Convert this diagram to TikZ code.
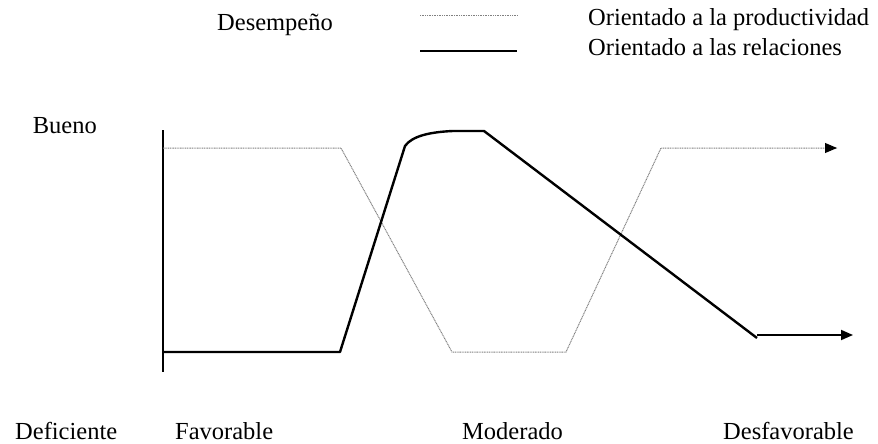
\documentclass[tikz,border=0pt]{standalone}
\usepackage{fontspec}
\setmainfont{Liberation Serif}
\usetikzlibrary{arrows.meta}
\newcommand{\punta}{-{Triangle[length=12pt,width=10pt]}}

\begin{document}
\begin{tikzpicture}[x=1pt,y=-1pt,
  prod/.style={gray, line width=1pt, dash pattern=on 1pt off 0.7pt},
  rel/.style={black, line width=2.4pt},
  etiq/.style={font=\fontsize{24.5}{29}\selectfont, inner sep=0pt, anchor=base west}]
  \useasboundingbox (0,0) rectangle (878,444);
  % leyenda
  \node[etiq] (desemp) at (217,31) {Desempeño};
  \node[etiq] (lprod) at (588,26) {Orientado a la productividad};
  \node[etiq] (lrel) at (588,56) {Orientado a las relaciones};
  \coordinate (p1) at (420,16);
  \coordinate (p2) at (517,16);
  \coordinate (r1) at (420,51);
  \coordinate (r2) at (517,51);
  \draw[prod] (p1) -- (p2);
  \draw[rel, line width=2pt] (r1) -- (r2);
  % ejes y textos
  \node[etiq, anchor=base east] (bueno) at (97,133) {Bueno};
  \node[etiq] (defic) at (15,439) {Deficiente};
  \node[etiq] (favor) at (175,439) {Favorable};
  \node[etiq] (moder) at (462,439) {Moderado};
  \node[etiq] (desfav) at (723,439) {Desfavorable};
  \coordinate (ejeA) at (163,130);
  \coordinate (ejeB) at (163,372);
  \draw[rel] (ejeA) -- (ejeB);
  % productividad
  \coordinate (a1) at (163,148);
  \coordinate (a2) at (341,148);
  \coordinate (a3) at (452,352);
  \coordinate (a4) at (566,352);
  \coordinate (a5) at (661,148);
  \coordinate (a6) at (837,148);
  \draw[prod] (a1) -- (a2) -- (a3) -- (a4) -- (a5) -- (a6);
  \draw[black, line width=1pt, \punta] (a6) ++(-2,0) -- (a6);
  % relaciones
  \coordinate (b1) at (163,352);
  \coordinate (b2) at (340,352);
  \coordinate (b3) at (405,146);
  \coordinate (b4) at (453,131);
  \coordinate (b5) at (484,131);
  \coordinate (b6) at (757,338);
  \coordinate (b7) at (757,335);
  \coordinate (b8) at (853,335);
  \draw[rel, line join=round] (b1) -- (b2) -- (b3) .. controls (412,136) and (430,132) .. (b4) -- (b5) -- (b6);
  \draw[rel, line width=1.8pt, \punta] (b7) -- (b8);
\end{tikzpicture}
\end{document}
